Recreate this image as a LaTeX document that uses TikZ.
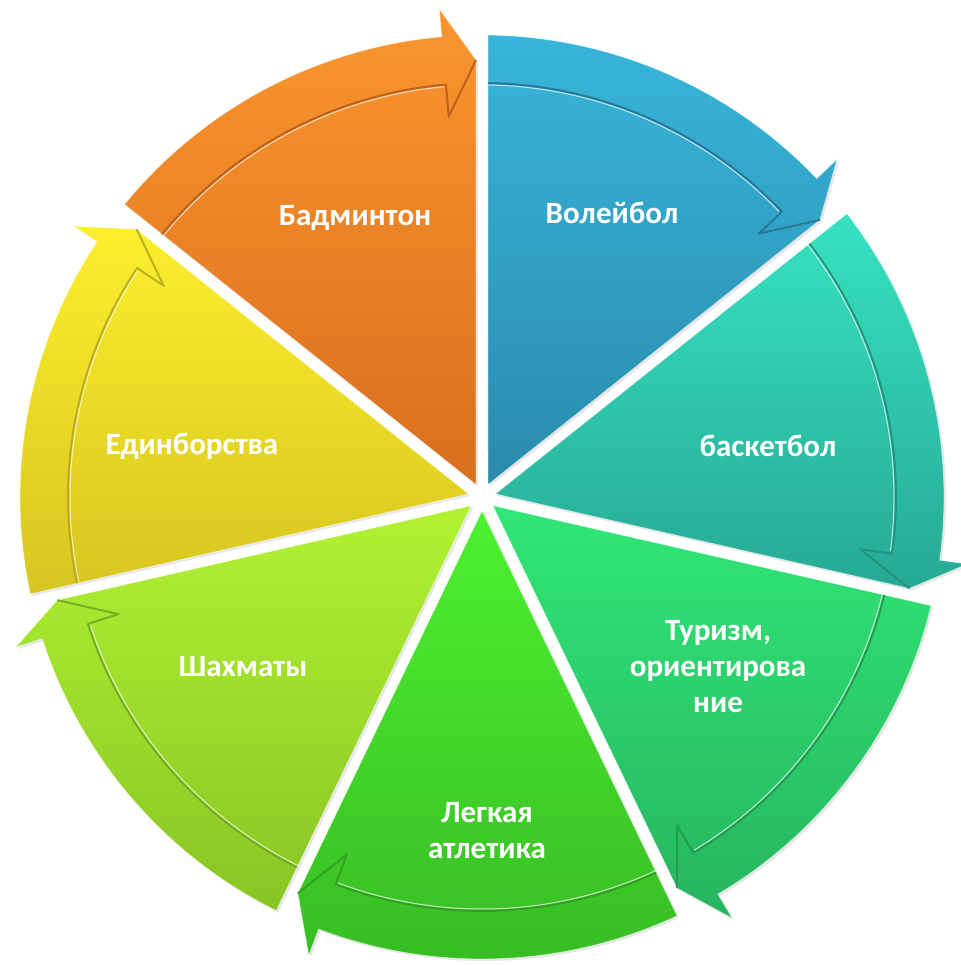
\documentclass[tikz,border=0pt]{standalone}
\usepackage{fontspec}
\setmainfont{Carlito}
\usetikzlibrary{calc,shadows}

\definecolor{orangeT}{HTML}{FA962E}
\definecolor{orangeB}{HTML}{D96E1E}
\definecolor{blueT}{HTML}{38B5DA}
\definecolor{blueB}{HTML}{2A8BAC}
\definecolor{tealT}{HTML}{36E2C0}
\definecolor{tealB}{HTML}{27A994}
\definecolor{greenT}{HTML}{30E777}
\definecolor{greenB}{HTML}{27B45F}
\definecolor{limeT}{HTML}{4DF12F}
\definecolor{limeB}{HTML}{37BB24}
\definecolor{chartT}{HTML}{B2F232}
\definecolor{chartB}{HTML}{88C424}
\definecolor{yellowT}{HTML}{FCEF2C}
\definecolor{yellowB}{HTML}{D6C520}

\begin{document}
\begin{tikzpicture}[x=1pt,y=1pt,
      piece/.style={
         draw=white,
         draw opacity=0.5,
         line width=0.8pt,
         line join=round,
         drop shadow={opacity=0.2,shadow xshift=2pt,shadow yshift=-2pt}},
      bevel/.style={
         line width=2pt,
         line join=round,
         draw opacity=0.9},
      shine/.style={
         white,
         line width=1pt,
         line join=round,
         draw opacity=0.7},
      label_txt/.style={
         text=white,
         font=\bfseries\fontsize{31}{36}\selectfont,
         align=center},
]
      \useasboundingbox (-482,-468) rectangle (478,497);
      % radii: band outside/inside, arrow tip, outer and inner barb
      \def\Ro{462} \def\Ri{414} \def\Rm{437} \def\Rb{490} \def\Rc{382}
      \def\g{6} \def\h{5}

    \foreach \s/\e/\ctop/\cbot/\lx/\ly/\txt [count=\i] in {% start angle/end angle/top colour/bottom colour/label x/label y/text
      141.43/90/orangeT/orangeB/-127/279/Бадминтон,
      90/38.57/blueT/blueB/130/284/Волейбол,
      38.57/-12.86/tealT/tealB/286/51/баскетбол,
      -12.86/-64.29/greenT/greenB/236/-170/{Туризм,\\ориентирова\\ние},
      -64.29/-115.71/limeT/limeB/5/-334/{Легкая\\атлетика},
      -115.71/-167.14/chartT/chartB/-239/-170/Шахматы,
      -167.14/-218.57/yellowT/yellowB/-290/51/Единборства}
    {
      \coordinate (mid\i) at ({(\s+\e)/2}:13.83);
      \coordinate (tip\i) at ($(\e:\Rm)+(\e+90:\g)$);
      \path[piece, top color=\ctop, bottom color=\cbot]
         (mid\i) -- (tip\i) -- (\e+\h:\Rb) -- (\e+\h:\Ro)
         arc[start angle=\e+\h, end angle=\s-0.74, radius=\Ro]
         -- cycle;
      \draw[bevel, \cbot!85!black] (\s-0.83:\Ri)
         arc[start angle=\s-0.83, end angle=\e+\h, radius=\Ri]
         -- (\e+\h:\Rc) -- (tip\i);
      \draw[shine] (\s-0.85:\Ri-2)
         arc[start angle=\s-0.85, end angle=\e+\h+0.3, radius=\Ri-2];
      \node[label_txt] (seg\i) at (\lx,\ly) {\txt};
    }
\end{tikzpicture}
\end{document}
